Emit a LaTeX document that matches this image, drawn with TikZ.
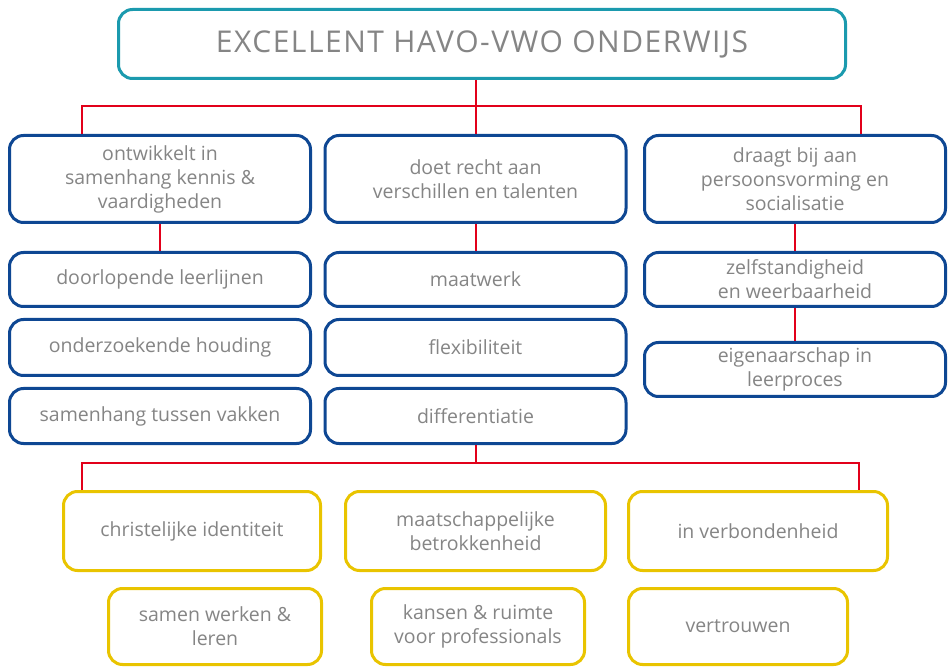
\documentclass[tikz,border=0pt]{standalone}
\usepackage{fontspec}
\setmainfont{Open Sans}
\newfontfamily\titlefont[LetterSpace=5]{Open Sans}
\definecolor{teal1}{HTML}{1B9AAE}
\definecolor{blue1}{HTML}{0E4793}
\definecolor{red1}{HTML}{E2001A}
\definecolor{yel1}{HTML}{E9C400}
\definecolor{txt}{HTML}{858585}
\begin{document}
\begin{tikzpicture}[x=1pt,y=-1pt,
  base/.style={rounded corners=14pt,line width=3pt,fill=white,text=txt,align=center,
    font=\fontsize{19.5}{24}\selectfont,inner sep=0pt},
  topbox/.style={base,draw=teal1,minimum width=727pt,minimum height=69pt},
  bbox/.style={base,draw=blue1,minimum width=301pt},
  ybox/.style={base,draw=yel1,minimum height=79pt},
  link/.style={draw=red1,line width=2pt}]
\useasboundingbox (0,0) rectangle (951,668);
% top
\node[topbox] (top) at (482,44) {\titlefont\fontsize{30}{32}\selectfont EXCELLENT HAVO-VWO ONDERWIJS};
% left column
\node[bbox,minimum height=87pt] (L1) at (160,179) {ontwikkelt in\\samenhang kennis \&\\vaardigheden};
\node[bbox,minimum height=54pt] (L2) at (160,279.5) {doorlopende leerlijnen};
\node[bbox,minimum height=56pt] (L3) at (160,347.5) {onderzoekende houding};
\node[bbox,minimum height=55pt] (L4) at (160,416) {samenhang tussen vakken};
% middle column
\node[bbox,minimum height=87pt] (M1) at (475.5,179) {doet recht aan\\verschillen en talenten};
\node[bbox,minimum height=54pt] (M2) at (475.5,279.5) {maatwerk};
\node[bbox,minimum height=56pt] (M3) at (475.5,347.5) {flexibiliteit};
\node[bbox,minimum height=55pt] (M4) at (475.5,416) {differentiatie};
% right column
\node[bbox,minimum height=87pt] (R1) at (795,179) {draagt bij aan\\persoonsvorming en\\socialisatie};
\node[bbox,minimum height=54pt] (R2) at (795,279.5) {zelfstandigheid\\en weerbaarheid};
\node[bbox,minimum height=54pt] (R3) at (795,369.5) {eigenaarschap in\\leerproces};
% yellow row A
\node[ybox,minimum width=257pt] (Y1) at (192,531) {christelijke identiteit};
\node[ybox,minimum width=260pt] (Y2) at (475.5,531) {maatschappelijke\\betrokkenheid};
\node[ybox,minimum width=259pt] (Y3) at (758,531) {in verbondenheid};
% yellow row B
\node[ybox,minimum width=213pt,minimum height=76pt] (Y4) at (215,626.5) {samen werken \&\\leren};
\node[ybox,minimum width=213pt,minimum height=76pt] (Y5) at (478,626.5) {kansen \& ruimte\\voor professionals};
\node[ybox,minimum width=219pt,minimum height=76pt] (Y6) at (738,626.5) {vertrouwen};
% connectors
\coordinate (busA) at (475.5,106);
\coordinate (busB) at (475.5,463);
\draw[link] (top.south -| M1.north) -- (M1.north);
\draw[link] ([xshift=-78pt]L1.north) |- (busA) -| ([xshift=66pt]R1.north);
\draw[link] (L1.south) -- (L2.north);
\draw[link] (M1.south) -- (M2.north);
\draw[link] (R1.south) -- (R2.north);
\draw[link] (R2.south) -- (R3.north);
\draw[link] (M4.south) -- (busB);
\draw[link] ([xshift=-110pt]Y1.north) |- (busB) -| ([xshift=101pt]Y3.north);
\end{tikzpicture}
\end{document}
